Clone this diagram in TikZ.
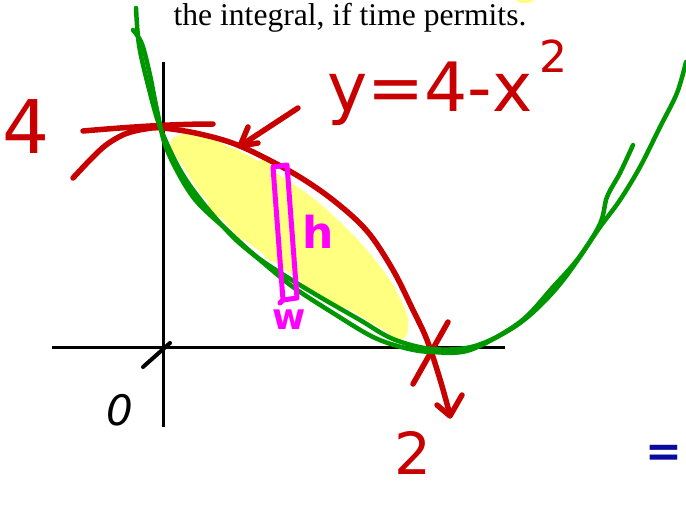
\documentclass[tikz,border=0pt]{standalone}
\usepackage{fontspec}
\setmainfont{Liberation Serif}
\newfontfamily\hand{DejaVu Sans}
\definecolor{hred}{HTML}{C80000}
\definecolor{hgreen}{HTML}{009600}
\definecolor{hyellow}{HTML}{FFFF80}
\definecolor{hmag}{HTML}{FF00FF}
\definecolor{hblue}{HTML}{0A0AA0}
\tikzset{
  redline/.style={draw=hred,line width=5.5pt,line cap=round,line join=round},
  greenline/.style={draw=hgreen,line width=4.5pt,line cap=round,line join=round},
  axisline/.style={draw=black,line width=3pt},
  magline/.style={draw=hmag,line width=5pt,line cap=round,line join=round},
  handtext/.style={font=\hand,inner sep=0pt,anchor=center},
}
\begin{document}
\begin{tikzpicture}[x=1pt,y=-1pt]
\useasboundingbox (0,0) rectangle (686,507);
% yellow shading
\fill[hyellow] plot[smooth cycle,tension=0.5] coordinates {
 (173,138) (197,132) (227,146) (253,158) (287,180) (313,198) (340,222)
 (367,250) (393,285) (408,318) (405,337) (400,338) (380,328) (350,310)
 (320,298) (300,281) (275,262) (250,244) (232,230) (215,210) (198,190)
 (183,166) (172,150)};
\foreach \cx/\cy/\r in {205/152/12, 232/160/12, 262/172/12, 220/205/12,
  246/228/12, 275/250/12, 305/268/12, 322/286/11, 348/296/12, 372/304/12,
  392/318/12, 398/330/10, 330/240/14, 360/268/13}
  \fill[hyellow] (\cx,\cy) circle (\r pt);
\fill[hyellow] (525,0) ellipse (9pt and 3pt);
% axes
\draw[axisline] (163,62) -- (163,427);
\draw[axisline] (52,347) -- (505,347);
\draw[axisline,line width=4pt,line cap=round] (143,367) -- (170,343);
% red parabola
\draw[redline] plot[smooth,tension=0.55] coordinates {
 (73,178) (90,160) (106,145) (125,134) (145,129) (163,128) (200,134)
 (240,146) (293,173) (333,200) (367,231) (393,270) (413,310) (425,335)
 (433,357) (442,386) (450,415)};
\draw[redline] (83,131) .. controls (140,126) and (180,124) .. (213,124);
\draw[redline] (448,322) -- (413,384);
\draw[redline] (437,405) -- (450,416) -- (462,395);
% green curves
\draw[greenline] plot[smooth,tension=0.55] coordinates {
 (136,8) (139,45) (148,85) (160,127) (180,170) (203,203) (233,237)
 (260,260) (293,287) (333,313) (373,337) (405,348) (432,352) (470,350)
 (520,322) (553,287) (577,260) (600,227) (620,200) (640,167) (660,127)
 (677,93) (686,62)};
\draw[greenline] plot[smooth,tension=0.55] coordinates {
 (133,30) (142,44) (150,75) (157,110) (167,150) (193,197) (227,230)
 (257,257) (287,277) (320,297) (360,320) (393,339) (432,349) (475,346)
 (520,323) (560,284) (598,228) (607,197) (620,173) (633,145)};
% magenta strip
\draw[magline] (273,167) -- (287,165) -- (297,298) -- (283,300) -- cycle;
\draw[magline] (283,300) -- (280,303);
% texts
\node[font=\fontsize{31.6}{36}\selectfont,anchor=base,inner sep=0pt] (title) at (350,25) {the integral, if time permits.};
\node[handtext,text=hred,font=\hand\fontsize{74}{80}\selectfont] (four) at (26,127) {4};
\node[handtext,text=hred,font=\hand\fontsize{68}{74}\selectfont,anchor=base west] (label) at (327,111) {y=4-x};
\node[handtext,text=hred,font=\hand\fontsize{44}{50}\selectfont] (sup) at (553,56) {2};
\node[handtext,text=hred,font=\hand\fontsize{58}{64}\selectfont] (two) at (413,453) {2};
\node[handtext,text=black,font=\hand\fontsize{42}{48}\selectfont\itshape] (zero) at (120,410) {0};
\node[handtext,text=hmag,font=\hand\fontsize{44}{50}\selectfont\bfseries] (h) at (318,232) {h};
\node[handtext,text=hmag,font=\hand\fontsize{36}{42}\selectfont\bfseries] (w) at (289,320) {w};
\node[handtext,text=hblue,font=\hand\fontsize{44}{50}\selectfont\bfseries] (eq) at (664,456) {=};
% arrow from label to curve
\coordinate (arrstart) at (298,108);
\coordinate (arrtip) at (240,146);
\draw[redline] (arrstart) -- (arrtip);
\draw[redline] (248,127) -- (arrtip) -- (258,143);
\end{tikzpicture}
\end{document}
